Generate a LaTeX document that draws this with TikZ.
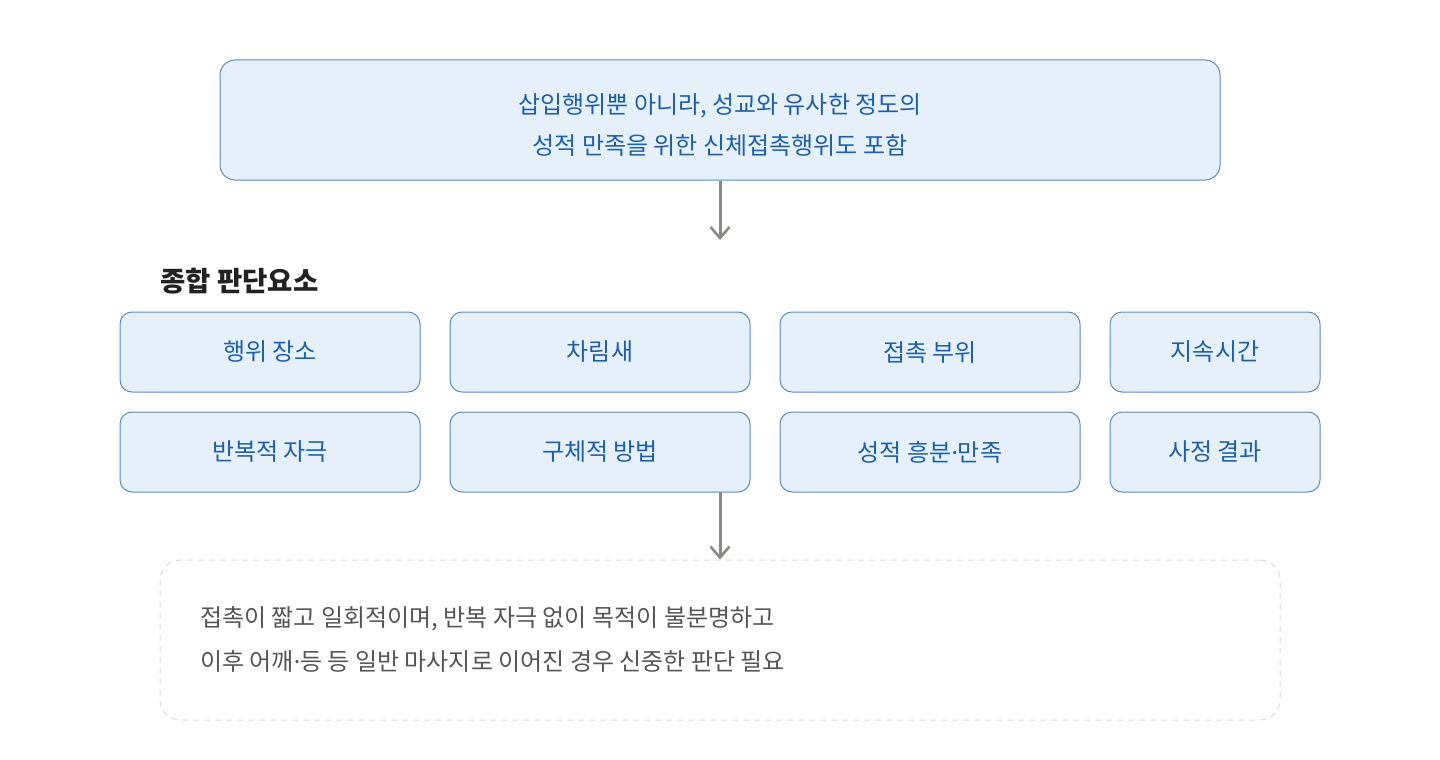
\documentclass[tikz,border=0pt]{standalone}
\usepackage{fontspec}
\setmainfont{Noto Sans CJK KR}
\newfontfamily\dotfont{Noto Sans}
\usetikzlibrary{arrows.meta}
\definecolor{boxfill}{HTML}{E6F0FA}
\definecolor{boxline}{HTML}{5A8CC8}
\definecolor{boxtext}{HTML}{1E5FAA}
\definecolor{arrowc}{HTML}{8A8985}
\definecolor{dashc}{HTML}{DADADA}
\definecolor{notec}{HTML}{555555}
\definecolor{headc}{HTML}{222222}
\newcommand{\mdot}{{\dotfont ·}}
\tikzset{
  bluebox/.style={draw=boxline, line width=1pt, fill=boxfill, rounded corners=12pt, text=boxtext, font=\fontsize{24}{28}\selectfont, inner sep=0pt},
  flowarrow/.style={draw=arrowc, line width=3pt, -{Straight Barb[length=11pt,width=19pt,line width=2.6pt]}},
}
\begin{document}
\begin{tikzpicture}[x=1pt,y=-1pt]
\useasboundingbox (0,0) rectangle (1440,760);
% top box
\node[bluebox, rounded corners=15pt, minimum width=1000pt, minimum height=120pt, inner sep=0pt] (top) at (720,120) {};
\node[align=center, text=boxtext, font=\fontsize{24}{41}\selectfont, inner sep=0pt] (toptext) at (720,125) {삽입행위뿐 아니라, 성교와 유사한 정도의\\성적 만족을 위한 신체접촉행위도 포함};
% heading
\node[anchor=west, text=headc, font=\fontsize{27.5}{32}\selectfont\bfseries, inner sep=0pt] (head) at (160,281) {종합 판단요소};
% row 1
\node[bluebox, minimum width=300pt, minimum height=80pt] (a1) at (270,352) {행위 장소};
\node[bluebox, minimum width=300pt, minimum height=80pt] (a2) at (600,352) {차림새};
\node[bluebox, minimum width=300pt, minimum height=80pt] (a3) at (930,352) {접촉 부위};
\node[bluebox, minimum width=210pt, minimum height=80pt] (a4) at (1215,352) {지속시간};
% row 2
\node[bluebox, minimum width=300pt, minimum height=80pt] (b1) at (270,452) {반복적 자극};
\node[bluebox, minimum width=300pt, minimum height=80pt] (b2) at (600,452) {구체적 방법};
\node[bluebox, minimum width=300pt, minimum height=80pt] (b3) at (930,452) {성적 흥분\mdot 만족};
\node[bluebox, minimum width=210pt, minimum height=80pt] (b4) at (1215,452) {사정 결과};
% note box
\node[draw=dashc, line width=1pt, dash pattern=on 6pt off 5pt, rounded corners=20pt, minimum width=1120pt, minimum height=160pt, inner sep=0pt] (note) at (720,640) {};
\node[anchor=west, align=left, text=notec, font=\fontsize{24}{44}\selectfont, inner sep=0pt] (notetext) at (200,639) {접촉이 짧고 일회적이며, 반복 자극 없이 목적이 불분명하고\\이후 어깨\mdot 등 등 일반 마사지로 이어진 경우 신중한 판단 필요};
% arrows
\coordinate (m1) at (720,240);
\draw[flowarrow] (top.south -| m1) -- (m1);
\coordinate (m2) at (720,492);
\draw[flowarrow] (m2) -- (note.north -| m2);
\end{tikzpicture}
\end{document}
